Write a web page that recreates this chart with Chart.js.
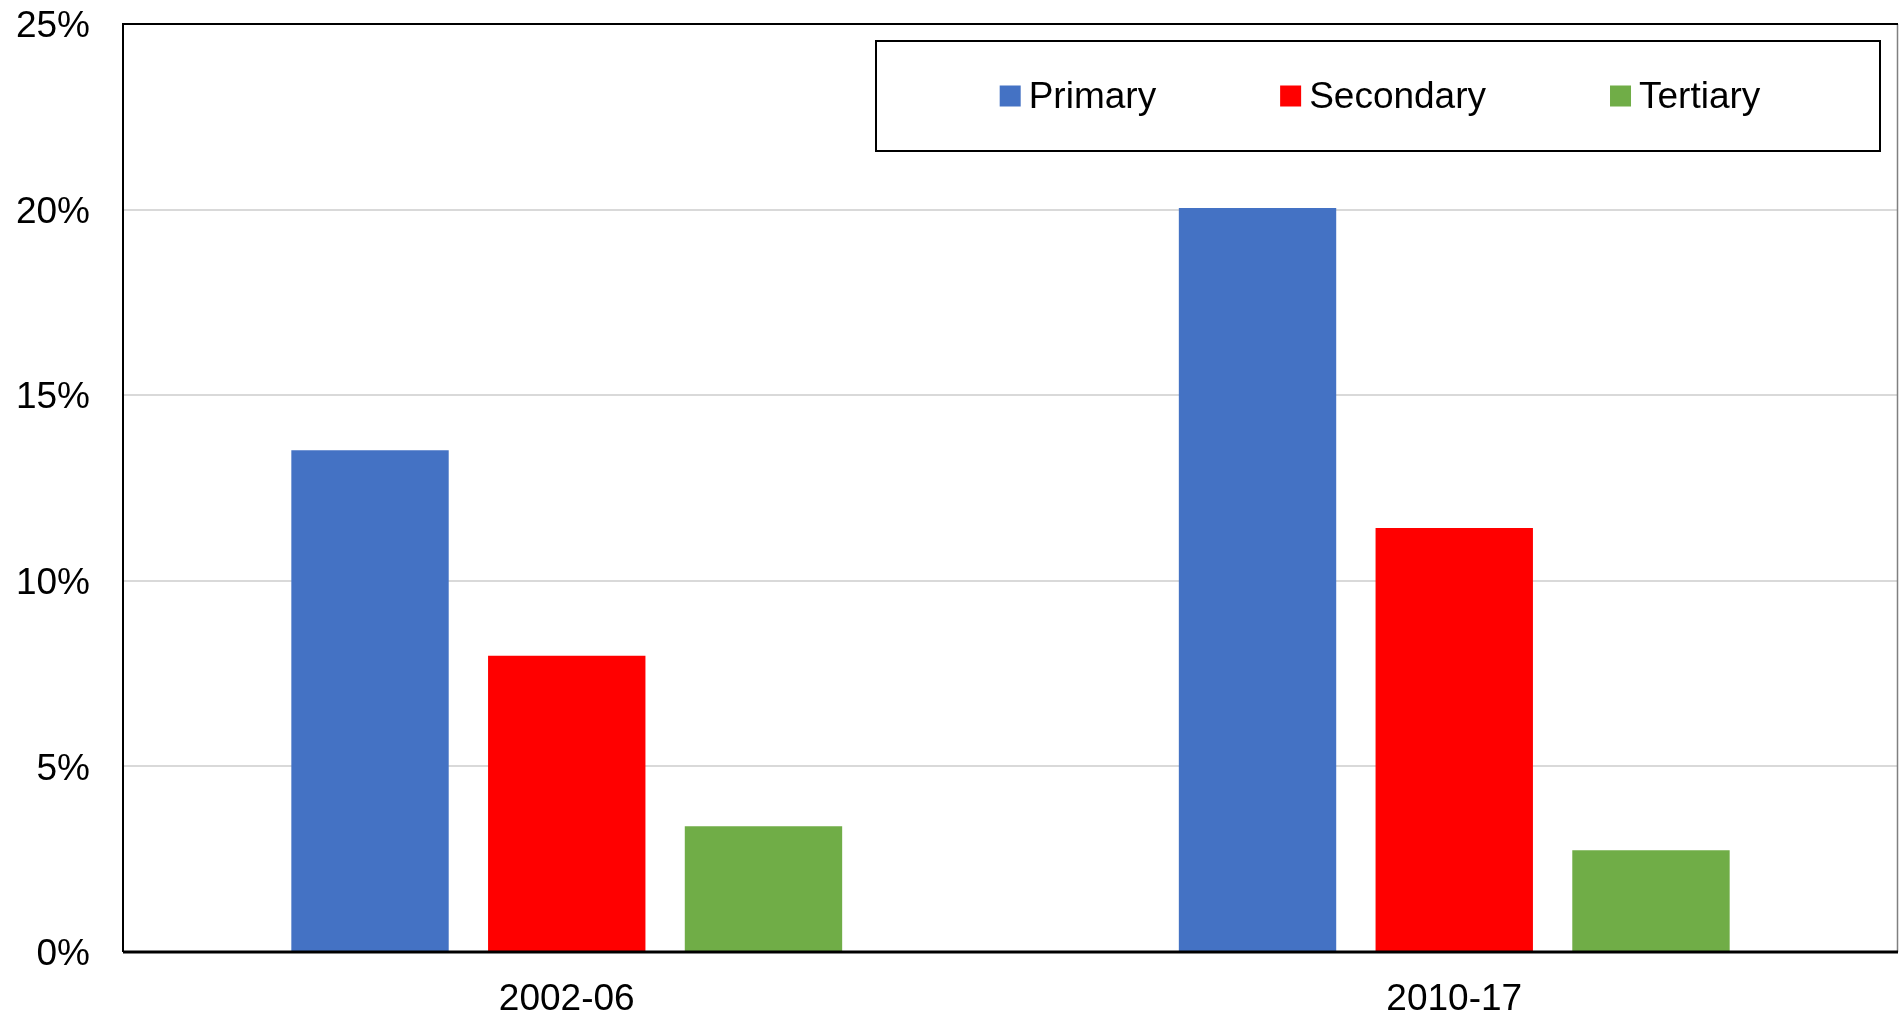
<!DOCTYPE html>
<html>
<head>
<meta charset="utf-8">
<script src="https://cdn.jsdelivr.net/npm/chart.js@4"></script>
<style>
  html, body { margin: 0; padding: 0; background: #fff; }
  #wrap { width: 1899px; height: 1016px; position: relative; }
</style>
</head>
<body>
<div id="wrap"><canvas id="eduChart" width="1899" height="1016"></canvas></div>
<script>
// Data
const periods = ['2002-06', '2010-17'];
const primary = [13.52, 20.04];
const secondary = [7.98, 11.42];
const tertiary = [3.39, 2.74];
const yTicks = [0, 5, 10, 15, 20, 25];

const FONT = '"Liberation Sans", Arial, sans-serif';

// Boxed legend drawn inside the plot area (top right)
const boxedLegend = {
    id: 'boxedLegend',
    afterDraw(chart) {
        const ctx = chart.ctx;
        const box = { x: 876, y: 41, w: 1004, h: 110 };
        ctx.save();
        ctx.strokeStyle = '#000';
        ctx.lineWidth = 2;
        ctx.fillStyle = '#fff';
        ctx.fillRect(box.x, box.y, box.w, box.h);
        ctx.strokeRect(box.x, box.y, box.w, box.h);

        ctx.font = '37px ' + FONT;
        ctx.textBaseline = 'middle';
        const sq = 21, gapText = 8, gapItem = 124;
        const items = chart.data.datasets.map(ds => ({
            label: ds.label, color: ds.backgroundColor,
            w: sq + gapText + ctx.measureText(ds.label).width
        }));
        const total = items.reduce((s, it) => s + it.w, 0) + gapItem * (items.length - 1);
        let x = box.x + (box.w - total) / 2 + 2;
        const cy = box.y + box.h / 2;
        items.forEach(it => {
            ctx.fillStyle = it.color;
            ctx.fillRect(x, cy - sq / 2, sq, sq);
            ctx.fillStyle = '#000';
            ctx.fillText(it.label, x + sq + gapText, cy + 2);
            x += it.w + gapItem;
        });
        ctx.restore();
    }
};

// Frame round the plot area: black left/top/bottom, grey right edge
const plotFrame = {
    id: 'plotFrame',
    afterDatasetsDraw(chart) {
        const { ctx, chartArea: a } = chart;
        ctx.save();
        ctx.strokeStyle = '#808080';
        ctx.lineWidth = 1.5;
        ctx.beginPath();
        ctx.moveTo(a.right - 0.5, a.top);
        ctx.lineTo(a.right - 0.5, a.bottom);
        ctx.stroke();

        ctx.strokeStyle = '#000';
        ctx.lineWidth = 2;
        ctx.beginPath();
        ctx.moveTo(a.right, a.top);
        ctx.lineTo(a.left, a.top);
        ctx.lineTo(a.left, a.bottom);
        ctx.stroke();

        ctx.beginPath();
        ctx.lineWidth = 3;
        ctx.moveTo(a.left, a.bottom);
        ctx.lineTo(a.right, a.bottom);
        ctx.stroke();
        ctx.restore();
    }
};

document.addEventListener('DOMContentLoaded', function() {
    const ctx = document.getElementById('eduChart').getContext('2d');
    new Chart(ctx, {
        type: 'bar',
        data: {
            labels: periods,
            datasets: [
                { label: 'Primary', data: primary, backgroundColor: '#4472C4' },
                { label: 'Secondary', data: secondary, backgroundColor: '#FF0000' },
                { label: 'Tertiary', data: tertiary, backgroundColor: '#70AD47' }
            ]
        },
        options: {
            responsive: false,
            animation: false,
            layout: { padding: { top: 24, right: 1, left: 0, bottom: 0 } },
            datasets: {
                bar: { barPercentage: 0.8, categoryPercentage: 0.665, borderWidth: 0 }
            },
            plugins: {
                legend: { display: false },
                tooltip: { enabled: false }
            },
            scales: {
                x: {
                    grid: { display: false },
                    border: { display: false },
                    ticks: { color: '#000', font: { family: FONT, size: 37 }, padding: 18 },
                    afterFit: s => { s.height = 64; s.paddingLeft = 0; s.paddingRight = 0; }
                },
                y: {
                    min: 0,
                    max: 25,
                    afterBuildTicks: s => { s.ticks = yTicks.map(v => ({ value: v })); },
                    grid: { color: '#d9d9d9', lineWidth: 2, drawTicks: false },
                    border: { display: false },
                    ticks: {
                        color: '#000',
                        font: { family: FONT, size: 37 },
                        padding: 33,
                        labelOffset: 3,
                        callback: v => v + '%'
                    },
                    afterFit: s => { s.width = 123; s.paddingTop = 0; s.paddingBottom = 0; }
                }
            }
        },
        plugins: [plotFrame, boxedLegend]
    });
});
</script>
</body>
</html>
